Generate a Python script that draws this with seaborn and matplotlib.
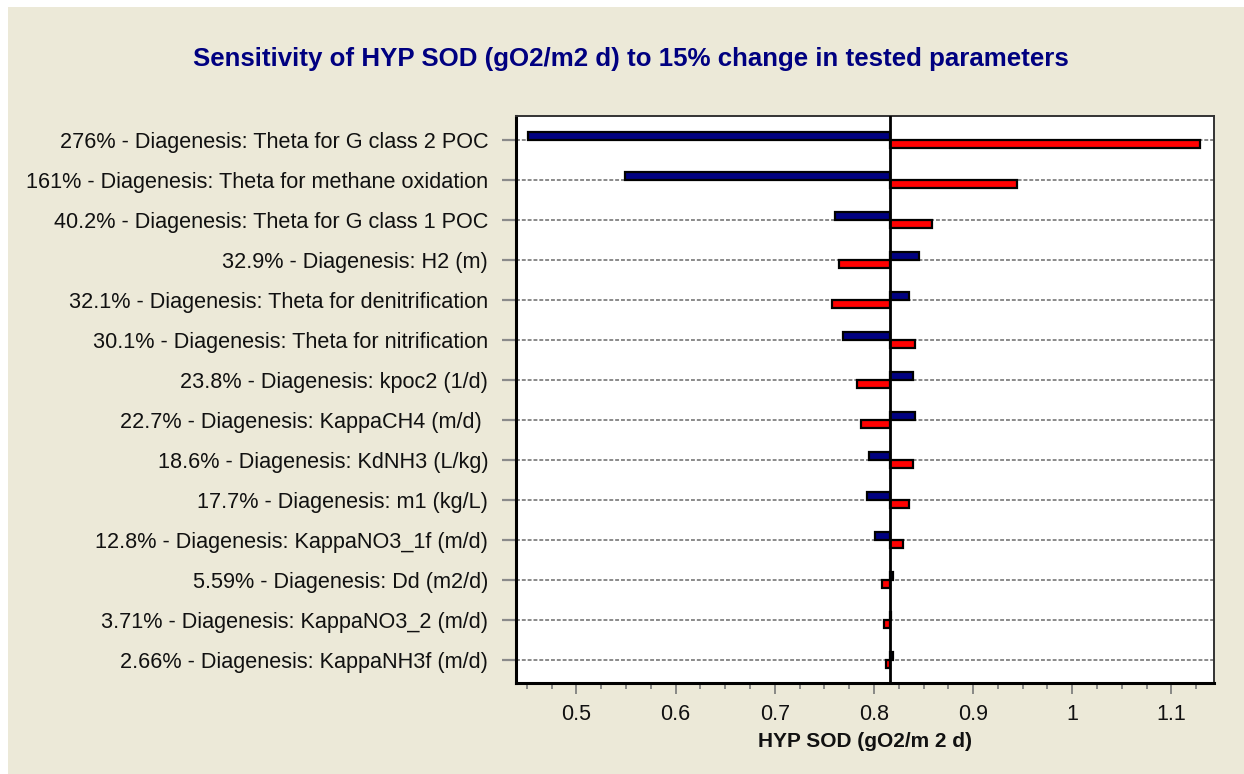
import numpy as np
import pandas as pd
import matplotlib
matplotlib.use("Agg")
import matplotlib.pyplot as plt
from matplotlib.patches import Rectangle
from matplotlib.ticker import MultipleLocator, FormatStrFormatter
import seaborn as sns

# ── Data ──────────────────────────────────────────────────
PARAMS = [
    "276% - Diagenesis: Theta for G class 2 POC",
    "161% - Diagenesis: Theta for methane oxidation",
    "40.2% - Diagenesis: Theta for G class 1 POC",
    "32.9% - Diagenesis: H2 (m)",
    "32.1% - Diagenesis: Theta for denitrification",
    "30.1% - Diagenesis: Theta for nitrification",
    "23.8% - Diagenesis: kpoc2 (1/d)",
    "22.7% - Diagenesis: KappaCH4 (m/d) ",
    "18.6% - Diagenesis: KdNH3 (L/kg)",
    "17.7% - Diagenesis: m1 (kg/L)",
    "12.8% - Diagenesis: KappaNO3_1f (m/d)",
    "5.59% - Diagenesis: Dd (m2/d)",
    "3.71% - Diagenesis: KappaNO3_2 (m/d)",
    "2.66% - Diagenesis: KappaNH3f (m/d)",
]
BASE = 0.8167   # baseline HYP SOD
LOW_CASE  = [0.4514, 0.5486, 0.7611, 0.8454, 0.8352, 0.7690, 0.8394,
             0.8412, 0.7949, 0.7926, 0.8009, 0.8190, 0.8175, 0.8190]
HIGH_CASE = [1.1287, 0.9444, 0.8588, 0.7648, 0.7574, 0.8412, 0.7833,
             0.7870, 0.8394, 0.8352, 0.8296, 0.8083, 0.8102, 0.8125]
CASES = ["low", "high"]
COLORS = {"low": "#000080", "high": "#FF0000"}

BEIGE = "#ECE9D8"
TXT   = "#111111"

# ── Frame ─────────────────────────────────────────────────
df = pd.DataFrame({
    "param": PARAMS * 2,
    "case":  [CASES[0]] * len(PARAMS) + [CASES[1]] * len(PARAMS),
    "value": LOW_CASE + HIGH_CASE,
})
df["delta"] = df["value"] - BASE

sns.set_style("white")
plt.rcParams["font.family"] = ["Liberation Sans", "DejaVu Sans"]

fig = plt.figure(figsize=(12.44, 7.74), dpi=100, facecolor="white")
fig.patches.append(Rectangle((8 / 1244, 0), 1 - 8 / 1244, 1 - 7 / 774,
                             transform=fig.transFigure, facecolor=BEIGE,
                             edgecolor="none", zorder=-10))
ax = fig.add_axes([0.4148, 0.1176, 0.5611, 0.7326])
ax.set_facecolor("white")

# dashed row lines behind the bars
for i in range(len(PARAMS)):
    ax.axhline(i, color="#8a8a8a", lw=1.4, ls=(0, (2, 1)), zorder=1)

sns.barplot(data=df, x="delta", y="param", hue="case", hue_order=CASES,
            palette=COLORS, saturation=1, orient="h", width=0.4, dodge=True,
            left=BASE, edgecolor="black", linewidth=1.6, legend=False,
            ax=ax, zorder=2)

ax.axvline(BASE, color="black", lw=2, zorder=3)

ax.set_xlim(0.439, 1.143)
ax.set_ylim(len(PARAMS) - 1 + 0.575, -0.6)

ax.xaxis.set_major_locator(MultipleLocator(0.1))
ax.xaxis.set_minor_locator(MultipleLocator(0.025))
ax.xaxis.set_major_formatter(FormatStrFormatter("%g"))
ax.tick_params(axis="x", which="major", direction="out", length=8, width=1.2,
               color="#777777", labelsize=15.5, labelcolor=TXT, pad=7, bottom=True)
ax.tick_params(axis="x", which="minor", direction="out", length=4, width=1.2,
               color="#777777", bottom=True)
ax.tick_params(axis="y", direction="out", length=10, width=1.6,
               color="#8a8a8a", labelsize=15.6, labelcolor=TXT, pad=10, left=True)

ax.set_xlabel("HYP SOD (gO2/m 2 d)", fontsize=15, fontweight="bold",
              color=TXT, labelpad=5)
ax.set_ylabel("")

for side in ["left", "bottom"]:
    ax.spines[side].set_color("black")
    ax.spines[side].set_linewidth(2.2)
for side in ["top", "right"]:
    ax.spines[side].set_color("#333333")
    ax.spines[side].set_linewidth(1.4)

fig.text(0.507, 0.924,
         "Sensitivity of HYP SOD (gO2/m2 d) to 15% change in tested parameters",
         ha="center", va="center", fontsize=18.6, fontweight="bold", color="#000080")

plt.savefig("out.png", dpi=100, facecolor=fig.get_facecolor())
